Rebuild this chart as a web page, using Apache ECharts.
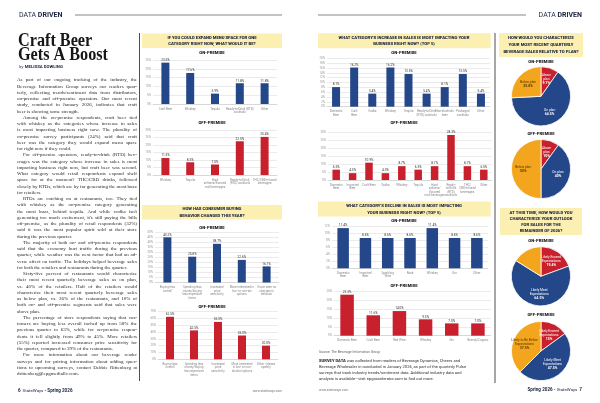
<!DOCTYPE html>
<html><head><meta charset="utf-8">
<script src="https://cdn.jsdelivr.net/npm/echarts@6/dist/echarts.min.js"></script>
<style>html,body{margin:0;padding:0;background:#fff;}#c{width:600px;height:403px;}</style>
</head><body><div id="c"></div>
<script>
// ---------- DATA ----------
const menuOnCats = ['Craft Beer', 'Whiskey', 'Tequila', 'Ready-to-Drink (RTD)\ncocktails', 'Other'];
const menuOn = [23.5, 17.6, 5.9, 11.8, 11.8];
const menuOffCats = ['Whiskey', 'Tequila', 'Hard\nseltzers/flavored\nmalt beverages', 'Ready-to-Drink\n(RTD) cocktails', 'THC/CBD-infused\nbeverages'];
const menuOff = [11.3, 8.5, 7.0, 22.5, 25.4];
const buyOnCats = ['Buying less\noverall', 'Spending less\nmoney/buying\nless expensive\nitems', 'Increased\nprice\nsensitivity', 'More interested in\nlow- or non-alc\noptions', 'I have seen no\nchanges in\nbehavior'];
const buyOn = [45.2, 25.8, 38.7, 22.6, 16.1];
const buyOffCats = ['Buying less\noverall', 'Spending less\nmoney/buying\nless expensive\nitems', 'Increased\nprice\nsensitivity', 'More interested\nin low- or non-\nalcohol options', 'Other - please\nspecify'];
const buyOff = [62.5, 42.5, 55.0, 35.0, 20.0];
const incOnCats = ['Domestic\nBeer', 'Craft\nBeer', 'Vodka', 'Whiskey', 'Tequila', 'Ready-to-Drink\n(RTD) cocktails', 'Non-alcoholic\nbeer', 'Packaged\ncocktails', 'Other'];
const incOn = [8.1, 16.2, 5.4, 16.2, 13.5, 5.4, 8.1, 13.5, 5.4];
const incOffCats = ['Domestic\nBeer', 'Imported\nBeer', 'Craft Beer', 'Vodka', 'Whiskey', 'Tequila', 'Hard\nseltzers/\nflavored\nmalt beverages', 'Ready-\nto-Drink\n(RTD)\ncocktails', 'THC/\nCBD-infused\nbeverages', 'Other'];
const incOff = [6.5, 4.3, 10.9, 4.3, 8.7, 6.5, 8.7, 28.3, 8.7, 6.5];
const decOnCats = ['Domestic\nBeer', 'Imported\nBeer', 'Sparkling\nWine', 'Rosé', 'Whiskey', 'Gin', 'Other'];
const decOn = [11.4, 8.6, 8.6, 8.6, 11.4, 8.6, 8.6];
const decOffCats = ['Domestic Beer', 'Craft Beer', 'Red Wine', 'Whiskey', 'Gin', 'Brandy/Cognac'];
const decOff = [23.3, 11.6, 14.0, 9.3, 7.0, 7.0];
const planOnNames = ['Above\nplan', 'On plan', 'Below plan'];
const planOn = [9.7, 64.5, 25.8];
const planOffNames = ['Above\nplan', 'On plan', 'Below plan'];
const planOff = [10, 40, 50];
const outOnNames = ['Likely Exceed\nExpectations', 'Likely Meet\nExpectations', 'Likely to\nBe Below\nExpectations'];
const outlookOn = [19.4, 64.5, 16.1];
const outOffNames = ['Likely Exceed\nExpectations', 'Likely Meet\nExpectations', 'Likely to Be Below\nExpectations'];
const outlookOff = [15, 47.5, 37.5];

// ---------- TEXT ----------
const article = [
 ["As part of our ongoing tracking of the industry, the",
  "Beverage Information Group surveys our readers quar-",
  "terly, collecting trends/sentiment data from distributors,",
  "on-premise and off-premise operators. Our most recent",
  "study, conducted in January 2026, indicates that craft",
  "beer is showing some strength."],
 ["Among the on-premise respondents, craft beer tied",
  "with whiskey as the categories whose increase in sales",
  "is most impacting business right now. The plurality of",
  "on-premise survey participants (24%) said that craft",
  "beer was the category they would expand menu space",
  "for right now if they could."],
 ["For off-premise operators, ready-to-drink (RTD) bev-",
  "erages was the category whose increase in sales is most",
  "impacting business right now, but craft beer was second.",
  "What category would retail respondents expand shelf",
  "space for at the moment? THC/CBD drinks, followed",
  "closely by RTDs, which are by far generating the most buzz",
  "for retailers."],
 ["RTDs are catching on at restaurants, too. They tied",
  "with whiskey as the on-premise category generating",
  "the most buzz, behind tequila. And while vodka isn't",
  "generating too much excitement, it's still paying the bills",
  "off-premise, as the plurality of retail respondents (32%)",
  "said it was the most popular spirit sold at their store",
  "during the previous quarter."],
 ["The majority of both on- and off-premise respondents",
  "said that the economy hurt traffic during the previous",
  "quarter, while weather was the next factor that had an ad-",
  "verse affect on traffic. The holidays helped beverage sales",
  "for both the retailers and restaurants during the quarter."],
 ["Sixty-five percent of restaurants would characterize",
  "their most recent quarterly beverage sales as on plan,",
  "vs. 40% of the retailers. Half of the retailers would",
  "characterize their most recent quarterly beverage sales",
  "as below plan, vs. 26% of the restaurants, and 10% of",
  "both on- and off-premise segments said that sales were",
  "above plan."],
 ["The percentage of store respondents saying that cus-",
  "tomers are buying less overall inched up from 58% the",
  "previous quarter to 63%, while for on-premise respon-",
  "dents it fell slightly from 49% to 45%. More retailers",
  "(55%) reported increased consumer price sensitivity for",
  "the quarter, compared to 39% of the restaurants."],
 ["For more information about our beverage reader",
  "surveys and for pricing information about adding ques-",
  "tions to upcoming surveys, contact Debbie Rittenberg at",
  "drittenberg@epgmediallc.com."]
];

// ---------- STYLE ----------
const BLUE = '#24478a', RED = '#c8202d', GOLD = '#f3a51d', BOX = '#fcefb2', INK = '#1c2540';
const SANS = 'Roboto', SERIF = 'Liberation Serif';

const chart = echarts.init(document.getElementById('c'), null, {renderer: 'canvas'});

const layouts = [
 {cats: menuOnCats, vals: menuOn, color: BLUE, max: 25, interval: 5, left: 153, right: 323, top: 60, height: 44, bw: 8},
 {cats: menuOffCats, vals: menuOff, color: RED, max: 30, interval: 5, left: 153, right: 323, top: 130, height: 45, bw: 8},
 {cats: buyOnCats, vals: buyOn, color: BLUE, max: 50, interval: 5, left: 155, right: 321, top: 232.5, height: 50, bw: 8},
 {cats: buyOffCats, vals: buyOff, color: RED, max: 70, interval: 10, left: 158, right: 322, top: 311.7, height: 47.6, bw: 8},
 {cats: incOnCats, vals: incOn, color: BLUE, max: 20, interval: 2, left: 327, right: 110, top: 58.3, height: 48.4, bw: 8},
 {cats: incOffCats, vals: incOff, color: RED, max: 30, interval: 5, left: 328, right: 108, top: 132.3, height: 47.7, bw: 7.5},
 {cats: decOnCats, vals: decOn, color: BLUE, max: 12, interval: 2, left: 332, right: 112, top: 226, height: 42.3, bw: 11.5},
 {cats: decOffCats, vals: decOff, color: RED, max: 25, interval: 5, left: 334, right: 109, top: 291.7, height: 44, bw: 13.5}
];

const grid = [], xAxis = [], yAxis = [], series = [];
layouts.forEach((L, i) => {
  grid.push({left: L.left, right: L.right, top: L.top, height: L.height, containLabel: false, outerBoundsMode: 'none'});
  xAxis.push({type: 'category', gridIndex: i, data: L.cats,
    axisLine: {show: true, lineStyle: {color: '#c4c4c4', width: 0.5}}, axisTick: {show: false},
    axisLabel: {interval: 0, fontSize: 3, color: '#8a8a8a', margin: 3, lineHeight: 3.6, fontFamily: SANS}});
  yAxis.push({type: 'value', gridIndex: i, min: 0, max: L.max, interval: L.interval,
    axisLine: {show: false}, axisTick: {show: false},
    axisLabel: {fontSize: 3, color: '#999', margin: 2, formatter: '{value}%', fontFamily: SANS},
    splitLine: {lineStyle: {color: '#d6d6d6', width: 0.5}}});
  series.push({type: 'bar', xAxisIndex: i, yAxisIndex: i, data: L.vals, barWidth: L.bw,
    itemStyle: {color: L.color},
    label: {show: true, position: 'top', distance: 1, fontSize: 3.2, color: '#333', fontFamily: SANS,
      formatter: p => p.value.toFixed(1) + '%'}});
});

function pie(names, vals, cx, cy) {
  const cols = [RED, BLUE, GOLD];
  return {type: 'pie', center: [cx, cy], radius: 29.6, startAngle: 90, clockwise: true,
    labelLine: {show: false}, emphasis: {disabled: true},
    itemStyle: {borderColor: '#fff', borderWidth: 0.8},
    label: {show: true, position: 'inside', fontFamily: SANS,
      formatter: p => '{n|' + p.name + '}\n{v|' + p.value + '%}',
      rich: {n: {fontSize: 3.3, lineHeight: 3.9}, v: {fontSize: 3.5, fontWeight: 'bold', lineHeight: 4.2}}},
    data: names.map((n, k) => ({name: n, value: vals[k], itemStyle: {color: cols[k]},
      label: {color: k === 2 ? '#5a3800' : '#fff'}}))};
}
series.push(pie(planOnNames, planOn, 541, 96.3));
series.push(pie(planOffNames, planOff, 541, 169));
series.push(pie(outOnNames, outlookOn, 541, 276.3));
series.push(pie(outOffNames, outlookOff, 541, 351));

// ---------- GRAPHICS (static page text) ----------
const G = [];
function T(x, y, text, o) {
  o = o || {};
  G.push({type: 'text', x: x, y: y, silent: true, scaleX: o.scaleX || 1,
    style: Object.assign({text: text, x: 0, y: 0, fill: o.fill || INK, fontSize: o.fs || 4,
      fontFamily: o.ff || SANS, fontWeight: o.fw || 'normal', align: o.align || 'left',
      verticalAlign: o.va || 'middle', lineHeight: o.lh}, o.rich ? {rich: o.rich} : {})});
}
function R(x, y, w, h, fill) { G.push({type: 'rect', silent: true, shape: {x, y, width: w, height: h}, style: {fill}}); }
function Ln(x1, y1, x2, y2, c, w) { G.push({type: 'line', silent: true, shape: {x1, y1, x2, y2}, style: {stroke: c, lineWidth: w}}); }

// header
const hdrRich = {a: {fontSize: 7, color: '#9db2cc', fontFamily: SANS}, b: {fontSize: 7, color: '#1f4f98', fontWeight: 'bold', fontFamily: SANS}};
T(19, 15, '{a|DATA }{b|DRIVEN}', {rich: hdrRich});
T(582, 15, '{a|DATA }{b|DRIVEN}', {rich: hdrRich, align: 'right'});
Ln(75, 15, 282, 15, '#555', 0.7);
Ln(318, 15, 526, 15, '#555', 0.7);

// dividers
Ln(139.5, 33, 139.5, 381, '#222', 0.8);
Ln(495, 33, 495, 383, '#222', 0.8);

// title + byline
T(18, 41.8, 'Craft Beer', {ff: SERIF, fw: 'bold', fs: 18, scaleX: 0.9, fill: '#161616'});
T(18, 55.8, 'Gets A Boost', {ff: SERIF, fw: 'bold', fs: 18, scaleX: 0.9, fill: '#161616'});
T(19, 67, '{a|by }{b|MELISSA DOWLING}', {rich: {a: {fontFamily: SERIF, fontSize: 4.6, color: '#222'}, b: {fontFamily: SANS, fontWeight: 'bold', fontSize: 4.3, color: '#111'}}});

// article body, justified
(function () {
  const FS = 5, X0 = 17, WID = 120, IND = 6, Y0 = 80, LH = 6.25;
  const ctx = document.createElement('canvas').getContext('2d');
  ctx.font = FS + 'px "' + SERIF + '"';
  let li = 0;
  article.forEach((para, pi) => {
    para.forEach((line, k) => {
      const y = Y0 + li * LH;
      const ind = (k === 0 && pi > 0) ? IND : 0;
      const words = line.split(' ');
      const ws = words.map(w => ctx.measureText(w).width);
      const tot = ws.reduce((a, b) => a + b, 0);
      const last = k === para.length - 1;
      let gap = last ? ctx.measureText(' ').width : (WID - ind - tot) / Math.max(1, words.length - 1);
      let x = X0 + ind;
      words.forEach((w, j) => {
        T(x, y, w, {ff: SERIF, fs: FS, fill: '#2a2a2a'});
        x += ws[j] + gap;
      });
      li++;
    });
  });
})();

// footers
T(18, 391, '{a|6}  {b|StateWays}{c| • }{a|Spring 2026}', {rich: {a: {fontWeight: 'bold', fontSize: 4.6, color: '#111', fontFamily: SANS}, b: {fontSize: 4.4, color: '#555', fontFamily: SANS}, c: {fontSize: 4.4, color: '#555'}}});
T(582, 390, '{a|Spring 2026}{c| • }{b|StateWays}  {a|7}', {align: 'right', rich: {a: {fontWeight: 'bold', fontSize: 4.6, color: '#111', fontFamily: SANS}, b: {fontSize: 4.4, color: '#555', fontFamily: SANS}, c: {fontSize: 4.4, color: '#555'}}});
T(282, 390.7, 'www.stateways.com', {fs: 3.2, fill: '#777', align: 'right'});
T(319, 390, 'www.stateways.com', {fs: 3.2, fill: '#777'});

// section headers
const HB = {fs: 4.2, fw: 900, fill: INK, align: 'center'};
function box(x, y, w, h, lines, ys, cx) {
  R(x, y, w, h, BOX);
  lines.forEach((t, i) => T(cx, ys[i], t, HB));
}
box(142, 33.5, 140, 14.5, ['IF YOU COULD EXPAND MENU SPACE FOR ONE', 'CATEGORY RIGHT NOW, WHAT WOULD IT BE?'], [37.5, 44], 212);
box(142, 205, 140, 14.5, ['HOW HAS CONSUMER BUYING', 'BEHAVIOR CHANGED THIS YEAR?'], [209.3, 215.7], 212);
box(318, 33.3, 172.7, 15, ["WHAT CATEGORY'S INCREASE IN SALES IS MOST IMPACTING YOUR", 'BUSINESS RIGHT NOW? (TOP 5)'], [37.7, 44], 404);
box(318, 201.5, 172.7, 15, ["WHAT CATEGORY'S DECLINE IN SALES IS MOST IMPACTING", 'YOUR BUSINESS RIGHT NOW? (TOP 5)'], [206, 212.7], 404);
box(499, 33, 84, 24, ['HOW WOULD YOU CHARACTERIZE', 'YOUR MOST RECENT QUARTERLY', 'BEVERAGE SALES RELATIVE TO PLAN?'], [38.3, 45, 51.7], 541);
box(500, 208, 82, 27, ['AT THIS TIME, HOW WOULD YOU', 'CHARACTERIZE YOUR OUTLOOK', 'FOR SALES FOR THE', 'REMAINDER OF 2026?'], [213.3, 219.3, 225.3, 231.3], 541);

const SUB = {fs: 4.2, fw: 900, fill: '#1a1a1a', align: 'center'};
T(212, 52.7, 'ON-PREMISE', SUB);
T(212, 123.3, 'OFF-PREMISE', SUB);
T(212, 228.3, 'ON-PREMISE', SUB);
T(212, 306.7, 'OFF-PREMISE', SUB);
T(404, 52.7, 'ON-PREMISE', SUB);
T(404, 123.3, 'OFF-PREMISE', SUB);
T(404, 220.7, 'ON-PREMISE', SUB);
T(404, 286, 'OFF-PREMISE', SUB);
T(541, 61.7, 'ON-PREMISE', SUB);
T(541, 134, 'OFF-PREMISE', SUB);
T(541, 241, 'ON-PREMISE', SUB);
T(541, 315, 'OFF-PREMISE', SUB);

// source + survey note
T(319, 352, 'Source: The Beverage Information Group', {fs: 3.4, fill: '#666'});
const noteLines = ['{b|SURVEY DATA} was collected from readers of Beverage Dynamics, Cheers and',
  'Beverage Wholesaler in conducted in January 2026, as part of the quarterly Pulse',
  'surveys that track industry trends/sentiment data. Additional industry data and',
  'analysis is available\u2014visit epgaccelerator.com to find out more.'];
noteLines.forEach((t, i) => T(319, 360.7 + i * 6.2, t, {fs: 4.1, fill: '#333',
  rich: {b: {fontWeight: 900, fontSize: 4.1, color: INK, fontFamily: SANS}}}));

chart.setOption({
  animation: false,
  textStyle: {fontFamily: SANS},
  grid, xAxis, yAxis, series,
  graphic: {elements: G}
});
</script></body></html>
